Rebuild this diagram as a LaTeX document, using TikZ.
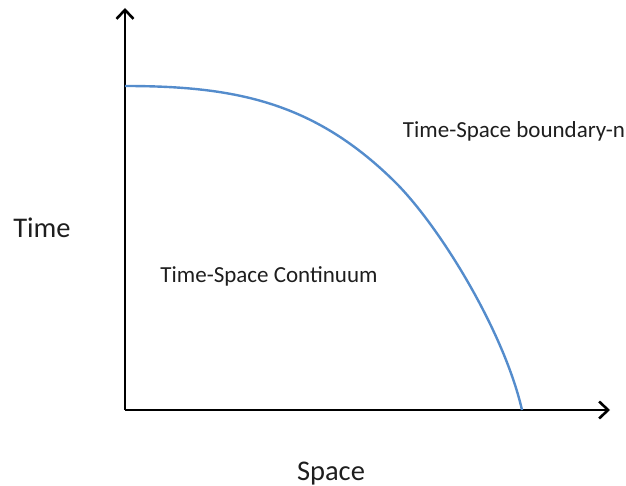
\documentclass[tikz,border=0pt]{standalone}
\usepackage{fontspec}
\setmainfont{Carlito}
\usepackage{tikz}
\usetikzlibrary{arrows.meta}
\definecolor{curveblue}{RGB}{84,140,204}
\definecolor{labelgray}{RGB}{30,30,30}

\begin{document}
\begin{tikzpicture}[x=1pt, y=-1pt,
        axis/.style={line width=2.8pt, -{Straight Barb[length=9pt, width=17pt, line width=2.6pt]}},
        bound/.style={curveblue, line width=2.4pt},
        axislabel/.style={inner sep=0pt, anchor=base, text=labelgray, font=\fontsize{28.5}{32}\selectfont},
        arealabel/.style={inner sep=0pt, anchor=base, text=labelgray, font=\fontsize{23}{26}\selectfont}
      ]
      \useasboundingbox (0,0) rectangle (626,486);
      \coordinate (O)  at (125,410);
      \coordinate (yT) at (125,8);
      \coordinate (xT) at (610,410);
      \coordinate (c0) at (125,86);
      \coordinate (c1) at (393,180);
      \coordinate (c2) at (522,410);
      \draw[axis] (O) -- (yT);
      \draw[axis] (O) -- (xT);
      \draw[bound] (c0) .. controls (235,86) and (313,102) .. (c1)
                        .. controls (438,223.6) and (503.6,330) .. (c2);
      \node[axislabel] (time)  at (42,238)  {Time};
      \node[axislabel] (space) at (331,480) {Space};
      \node[arealabel] (continuum) at (269,283) {Time-Space Continuum};
      \node[arealabel] (boundary)  at (514,138) {Time-Space boundary-n};
    \end{tikzpicture}
\end{document}
